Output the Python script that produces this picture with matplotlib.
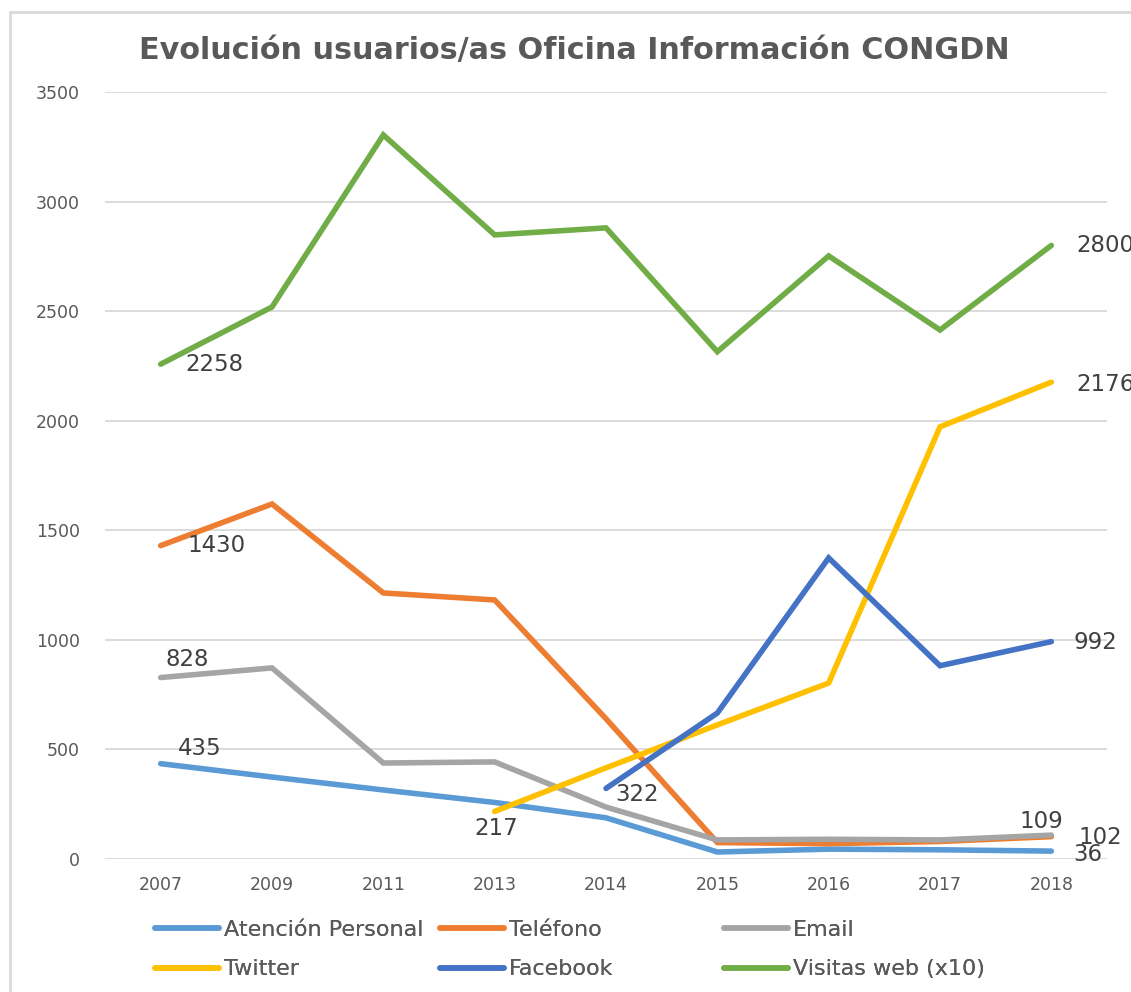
import numpy as np
import matplotlib
matplotlib.use("Agg")
import matplotlib.pyplot as plt
from matplotlib.patches import Rectangle

nan = np.nan
years = ['2007', '2009', '2011', '2013', '2014', '2015', '2016', '2017', '2018']
atencion = [435, 374, 315, 258, 188, 32, 45, 42, 36]
telefono = [1430, 1620, 1214, 1182, 640, 75, 70, 80, 102]
email = [828, 872, 438, 443, 237, 87, 90, 87, 109]
twitter = [nan, nan, nan, 217, 416, 612, 803, 1972, 2176]
facebook = [nan, nan, nan, nan, 322, 666, 1374, 882, 992]
visitas = [2258, 2519, 3304, 2848, 2880, 2315, 2752, 2414, 2800]

names = ['Atención Personal', 'Teléfono', 'Email', 'Twitter', 'Facebook', 'Visitas web (x10)']
colors = ['#5B9BD5', '#ED7D31', '#A5A5A5', '#FFC000', '#4472C4', '#70AD47']
series = [atencion, telefono, email, twitter, facebook, visitas]

W, H = 1131, 992
fig = plt.figure(figsize=(W / 100, H / 100), dpi=100)
ax = fig.add_axes([105 / W, 1 - 859 / H, (1107 - 105) / W, (859 - 92) / H])

x = np.arange(len(years))
lines = []
for vals, name, c in zip(series, names, colors):
    ln, = ax.plot(x, vals, color=c, lw=4, label=name, solid_capstyle='round',
                  solid_joinstyle='miter')
    lines.append(ln)

ax.set_xlim(-0.5, len(years) - 0.5)
ax.set_ylim(0, 3500)
ax.set_yticks(np.arange(0, 3501, 500))
ax.set_xticks(x)
ax.set_xticklabels(years)
ax.grid(axis='y', color='#D9D9D9', lw=1.3)
ax.set_axisbelow(True)
for s in ax.spines.values():
    s.set_visible(False)
ax.tick_params(length=0, labelsize=12.5, labelcolor='#595959')
ax.tick_params(axis='y', pad=18)
ax.tick_params(axis='x', pad=12)

# data labels: (series, index, dx px, dy px, ha)
labels = [
    (visitas, 0, 25, 0, 'left'),
    (visitas, 8, 25, 0, 'left'),
    (telefono, 0, 27, 0, 'left'),
    (telefono, 8, 27, -1, 'left'),
    (email, 0, 27, 18, 'center'),
    (email, 8, -10, 14, 'center'),
    (atencion, 0, 39, 15, 'center'),
    (atencion, 8, 22, -3, 'left'),
    (twitter, 3, 2, -17, 'center'),
    (twitter, 8, 25, -2, 'left'),
    (facebook, 4, 9, -6, 'left'),
    (facebook, 8, 22, -1, 'left'),
]
for vals, i, dx, dy, ha in labels:
    ax.annotate(f"{vals[i]:.0f}", (x[i], vals[i]), xytext=(dx, dy),
                textcoords='offset pixels', ha=ha, va='center',
                fontsize=16.5, color='#404040', annotation_clip=False)

fig.text(574 / W, 1 - 51 / H, 'Evolución usuarios/as Oficina Información CONGDN',
         ha='center', va='center', fontsize=21.8, fontweight='bold', color='#595959')

# legend, three columns of two rows
cols = [(155, [0, 3]), (440, [1, 4]), (724, [2, 5])]
for px, idx in cols:
    leg = fig.legend([lines[k] for k in idx], [names[k] for k in idx],
                     loc='upper left', bbox_to_anchor=(px / W, 1 - 920 / H),
                     frameon=False, borderpad=0, borderaxespad=0,
                     handlelength=2.9, handletextpad=0.2, labelspacing=0.87,
                     fontsize=16, labelcolor='#595959')
    fig.add_artist(leg)

# chart border
fig.add_artist(Rectangle((10 / W, -0.05), 1.2, 1 - 12 / H + 0.05,
                         transform=fig.transFigure, fill=False,
                         edgecolor='#D9D9D9', lw=2))

fig.savefig('out.png', dpi=100, facecolor='white')
